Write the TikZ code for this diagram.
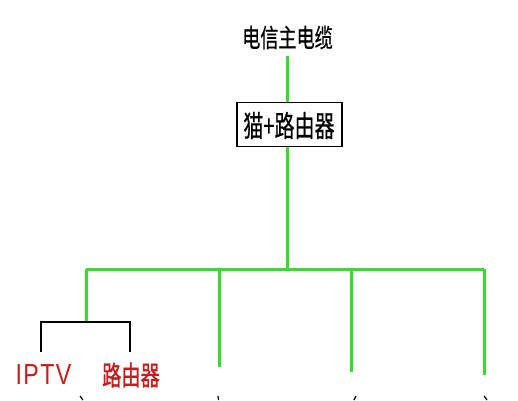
\documentclass[tikz,border=0pt]{standalone}
\usepackage{fontspec}
\newfontfamily\cjk[FakeBold=0.6]{Noto Sans CJK SC}
\newfontfamily\cjkb[FakeBold=1.2]{Noto Sans CJK SC}
\newfontfamily\latin[LetterSpace=6]{Liberation Sans}
\definecolor{wire}{RGB}{55,220,45}
\definecolor{lbl}{RGB}{200,28,28}
\tikzset{
  wireline/.style={draw=wire, line width=3pt},
  blackline/.style={draw=black, line width=1.8pt},
  boxnode/.style={draw=black, line width=1.3pt, minimum width=105pt, minimum height=44pt, inner sep=0pt},
  frag/.style={draw=black, line width=1.2pt}
}
\begin{document}
\begin{tikzpicture}[x=1pt,y=-1pt]
\useasboundingbox[fill=white] (0,0) rectangle (518,400);
% title
\node[inner sep=0pt, xscale=0.71, font=\cjk\fontsize{25.5}{25.5}\selectfont] (title) at (287.5,37.5) {电信主电缆};
\coordinate (ttop) at (287,56);
% box
\node[boxnode] (box) at (289.5,124.5) {};
\node[inner sep=0pt, xscale=0.68, font=\cjk\fontsize{29.5}{29.5}\selectfont] (boxtxt) at (289,125.5) {猫+路由器};
\draw[wireline] (ttop) -- (box.north -| ttop);
% trunk
\coordinate (hub) at (287,269);
\draw[wireline] (box.south -| hub) -- (hub);
% horizontal bus
\coordinate (b1) at (86,269);
\coordinate (b2) at (219,269);
\coordinate (b3) at (351,269);
\coordinate (b4) at (484,269);
\draw[wireline] (b1) -- (b4);
% drops
\coordinate (d1) at (86,322);
\coordinate (d2) at (219,367);
\coordinate (d3) at (351,372);
\coordinate (d4) at (484,375);
\draw[wireline] (b1) -- (d1);
\draw[wireline] (b2) -- (d2);
\draw[wireline] (b3) -- (d3);
\draw[wireline] (b4) -- (d4);
% bracket
\coordinate (k1) at (41,322);
\coordinate (k2) at (130,322);
\coordinate (k1b) at (41,352);
\coordinate (k2b) at (130,352);
\draw[blackline] (k1b) -- (k1) -- (k2) -- (k2b);
% labels
\node[inner sep=0pt, xscale=0.8, text=lbl, font=\latin\fontsize{29}{29}\selectfont] (iptv) at (43.5,374.5) {IPTV};
\node[inner sep=0pt, xscale=0.71, text=lbl, font=\cjkb\fontsize{27}{27}\selectfont] (router) at (131,375) {路由器};
% cut-off fragments at bottom edge
\coordinate (f1a) at (80,396); \coordinate (f1b) at (83,400);
\coordinate (f2a) at (218,396); \coordinate (f2b) at (218.5,400);
\coordinate (f3a) at (356,396); \coordinate (f3b) at (354,400);
\coordinate (f4a) at (484,396); \coordinate (f4b) at (487,400);
\draw[frag] (f1a) -- (f1b);
\draw[frag] (f2a) -- (f2b);
\draw[frag] (f3a) -- (f3b);
\draw[frag] (f4a) -- (f4b);
\end{tikzpicture}
\end{document}
